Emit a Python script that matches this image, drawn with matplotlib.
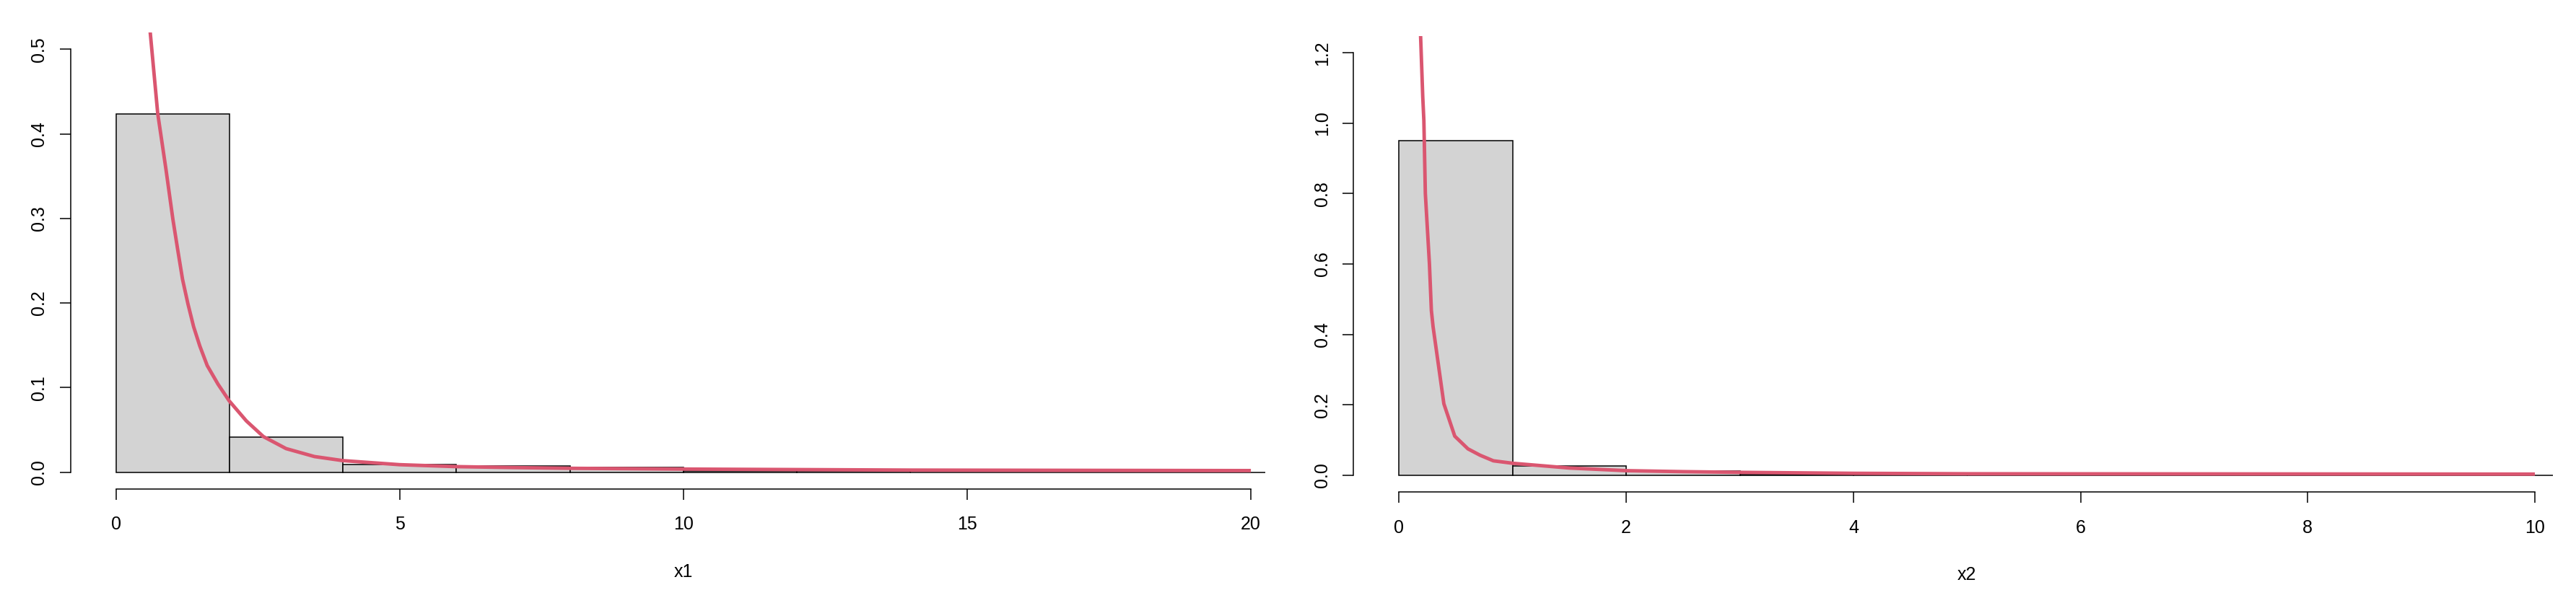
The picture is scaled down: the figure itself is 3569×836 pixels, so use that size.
import matplotlib
matplotlib.use("Agg")
import matplotlib.pyplot as plt

plt.rcParams['font.family'] = ['Liberation Sans', 'DejaVu Sans']

# ---- data: panel 1 (x1) ----
x1_edges = [0, 2, 4, 6, 8, 10, 12, 14, 16, 18, 20, 20.25]
x1_density = [0.4235, 0.0418, 0.0094, 0.0071, 0.0054, 0.0012, 0.0010, 0, 0, 0, 0]
x1_curve_x = [0.5, 0.607, 0.738, 0.883, 1.005, 1.09, 1.175, 1.27, 1.37, 1.48, 1.61, 1.8,
              2.0, 2.3, 2.6, 3.0, 3.5, 4.0, 5.0, 6.0, 7.0, 8.0, 10.0, 14.0, 20.0]
x1_curve_y = [0.60, 0.519, 0.424, 0.358, 0.299, 0.263, 0.228, 0.199, 0.172, 0.149, 0.126, 0.104,
              0.084, 0.0605, 0.042, 0.0278, 0.0184, 0.0136, 0.0088, 0.0065, 0.0054, 0.0045,
              0.0036, 0.0024, 0.0018]
x1_xticks = [0, 5, 10, 15, 20]
x1_yticks = [0.0, 0.1, 0.2, 0.3, 0.4, 0.5]
x1_yticklabels = ["0.0", "0.1", "0.2", "0.3", "0.4", "0.5"]

# ---- data: panel 2 (x2) ----
x2_edges = [0, 1, 2, 3, 4, 5, 6, 7, 8, 9, 10, 10.16]
x2_density = [0.95, 0.026, 0.012, 0.002, 0.001, 0, 0, 0, 0, 0, 0]
x2_curve_x = [0.17, 0.189, 0.208, 0.218, 0.231, 0.267, 0.284, 0.299, 0.394, 0.49, 0.606,
              0.712, 0.83, 1.0, 1.5, 2.0, 2.5, 3.0, 4.0, 5.0, 10.0]
x2_curve_y = [1.45, 1.249, 1.076, 1.007, 0.80, 0.60, 0.468, 0.422, 0.203, 0.111, 0.075,
              0.057, 0.041, 0.034, 0.0205, 0.013, 0.0102, 0.0082, 0.0055, 0.0042, 0.0032]
x2_xticks = [0, 2, 4, 6, 8, 10]
x2_yticks = [0.0, 0.2, 0.4, 0.6, 0.8, 1.0, 1.2]
x2_yticklabels = ["0.0", "0.2", "0.4", "0.6", "0.8", "1.0", "1.2"]

W, H = 3569, 836
fig = plt.figure(figsize=(W / 100, H / 100), dpi=100)

BAR_FILL = "#D3D3D3"
CURVE = "#DA5670"
FS = 18


def panel(rect, edges, dens, cx, cy, xticks, yticks, ylabels, xlim, ylim, xlabel):
    ax = fig.add_axes(rect)
    lefts = edges[:-1]
    widths = [edges[i + 1] - edges[i] for i in range(len(edges) - 1)]
    ax.bar(lefts, dens, width=widths, align='edge', color=BAR_FILL,
           edgecolor='black', linewidth=1.1, zorder=2)
    ax.plot(cx, cy, color=CURVE, linewidth=3.5, zorder=3, solid_capstyle='butt',
            solid_joinstyle='round')
    xr = xlim[1] - xlim[0]
    yr = ylim[1] - ylim[0]
    ax.set_xlim(xlim[0] - 0.04 * xr, xlim[1] + 0.04 * xr)
    ax.set_ylim(ylim[0] - 0.04 * yr, ylim[1] + 0.04 * yr)
    for s in ['top', 'right']:
        ax.spines[s].set_visible(False)
    ax.spines['left'].set_bounds(yticks[0], yticks[-1])
    ax.spines['bottom'].set_bounds(xticks[0], xticks[-1])
    for s in ['left', 'bottom']:
        ax.spines[s].set_linewidth(1.1)
    ax.set_xticks(xticks)
    ax.set_xticklabels([str(t) for t in xticks], fontsize=FS)
    ax.set_yticks(yticks)
    ax.set_yticklabels(ylabels, fontsize=FS, rotation=90, va='center')
    ax.tick_params(axis='both', direction='out', length=10.8, width=1.1)
    ax.tick_params(axis='x', pad=16)
    ax.tick_params(axis='y', pad=12)
    ax.set_xlabel(xlabel, fontsize=FS, labelpad=30)
    return ax


panel([97.6 / W, (H - 678) / H, (1796 - 97.6) / W, (678 - 44.8) / H],
      x1_edges, x1_density, x1_curve_x, x1_curve_y, x1_xticks, x1_yticks, x1_yticklabels,
      (0, 20), (0, 0.5), "x1")
panel([1875.5 / W, (H - 682.3) / H, (3575 - 1875.5) / W, (682.3 - 49.8) / H],
      x2_edges, x2_density, x2_curve_x, x2_curve_y, x2_xticks, x2_yticks, x2_yticklabels,
      (0, 10), (0, 1.2), "x2")

fig.savefig("out.png", dpi=100)
